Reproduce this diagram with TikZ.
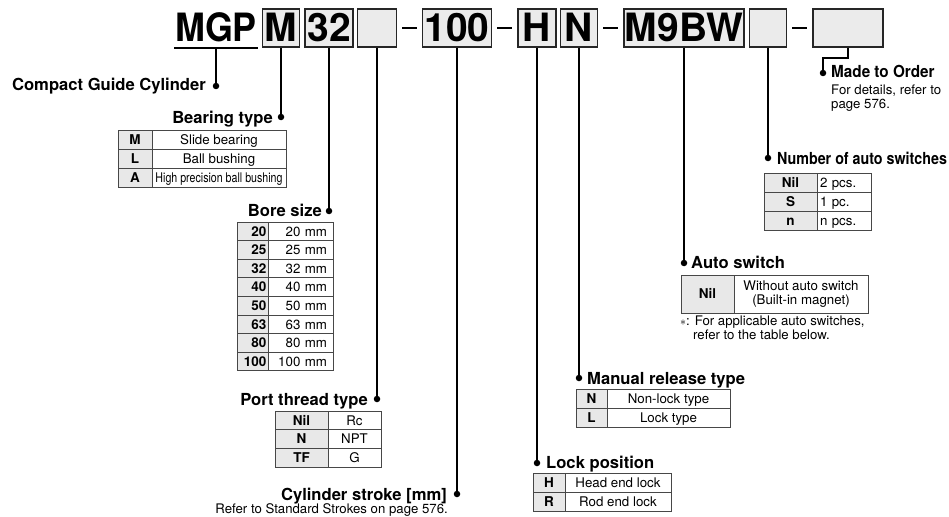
\documentclass[tikz,border=0pt]{standalone}
\usepackage{fontspec}
\setmainfont{TeX Gyre Heros}

\begin{document}
\begin{tikzpicture}[x=1pt, y=-1pt,
  code/.style={draw=black!85, line width=1.6pt, fill=black!8, inner sep=0pt, minimum height=38pt, text height=28pt, text depth=0pt, font=\fontsize{39}{39}\selectfont\bfseries},
  lead/.style={line width=1.6pt},
  hyphen/.style={line width=2.6pt, shorten <=5pt, shorten >=5pt},
  dot/.style={circle, fill, inner sep=0pt, minimum size=6.5pt},
  head/.style={font=\fontsize{16.6}{16.6}\selectfont\bfseries, inner sep=0pt},
  note/.style={font=\fontsize{13.2}{14}\selectfont, inner sep=0pt},
  cell/.style={draw=black!72, line width=0.9pt, inner sep=0pt, outer sep=0pt, text height=9.4pt, text depth=0pt, anchor=north west},
  keycell/.style={cell, fill=black!9, font=\fontsize{13.5}{14}\selectfont\bfseries},
  valcell/.style={cell, font=\fontsize{13.3}{14}\selectfont}]
\useasboundingbox (0,0) rectangle (949,516);

% model code
\node[code, minimum width=78pt, draw=none, fill=none] (mgp) at (216,28) {\scalebox{0.92}[1]{MGP}};
\draw[line width=2pt] (mgp.south west) -- (mgp.south east);
\foreach \n/\x/\w/\t in {bm/281/37pt/M, bs/329/48pt/32, bp/377/39pt/{}, bl/457/69pt/100, bh/537/38pt/H, bn/579/37pt/N, ba/684/120pt/M9BW, bc/768/37pt/{}, bo/848/70pt/{}}
  \node[code, minimum width=\w] (\n) at (\x,28) {\t};
\foreach \a/\b in {bp/bl, bl/bh, bn/ba, bc/bo}
  \draw[hyphen] (\a.east) -- (\b.west);

% leaders
\foreach \b/\x/\y/\d in {mgp/216/86/cgc, bm/281/117/bear, bs/329/211/bore, bp/377/399/port, bl/457/494/strk, bh/537/463/lock, bn/579/378/man, ba/684/263/auto, bc/768/158/num}{
  \node[dot] (d-\d) at (\x,\y) {};
  \draw[lead] (\b.south) -- (d-\d);}
\node[dot] (d-mto) at (823,73) {};
\draw[lead] (bo.south) -- ++(0,10) -| (d-mto);

% headings
\node[head, anchor=base east] (t-cgc) at (206,91) {Compact Guide Cylinder};
\node[head, anchor=base east] (t-bear) at (273,123) {Bearing type};
\node[head, anchor=base east] (t-bore) at (322,216) {Bore size};
\node[head, anchor=base east] (t-port) at (368,405) {Port thread type};
\node[head, anchor=base east] (t-strk) at (447,500) {Cylinder stroke [mm]};
\node[note, anchor=base east] (n-strk) at (448,513) {Refer to Standard Strokes on page 576.};
\node[head, anchor=base west] (t-man) at (587,384) {Manual release type};
\node[head, anchor=base west] (t-lock) at (546,468) {Lock position};
\node[head, anchor=base west] (t-auto) at (691,268) {Auto switch};
\node[note, anchor=base west] (n-auto1) at (680,325) {$\ast$: For applicable auto switches,};
\node[note, anchor=base west] (n-auto2) at (693,339) {refer to the table below.};
\node[head, anchor=base west] (t-num) at (777,164) {\scalebox{0.86}[1]{Number of auto switches}};
\node[head, anchor=base west] (t-mto) at (831,78) {\scalebox{0.92}[1]{Made to Order}};
\node[note, anchor=base west] (n-mto1) at (831,95) {For details, refer to};
\node[note, anchor=base west] (n-mto2) at (831,108) {page 576.};

% tables
\foreach \k/\v [count=\i from 0] in {M/Slide bearing, L/Ball bushing, A/\scalebox{0.8}[1]{High precision ball bushing}}{
  \node[keycell, minimum width=34pt, minimum height=19pt] (bk\i) at (118,130+19*\i) {\k};
  \node[valcell, minimum width=134pt, minimum height=19pt] (bv\i) at (bk\i.north east) {\v};}
\foreach \k [count=\i from 0] in {20,25,32,40,50,63,80,100}{
  \node[keycell, text width=28pt, inner xsep=1.5pt, align=right, minimum height=18.6pt] (ok\i) at (237,222+18.6*\i) {\k};
  \node[valcell, text width=53pt, inner xsep=6pt, align=right, minimum height=18.6pt] (ov\i) at (ok\i.north east) {\k~mm};}
\foreach \k/\v [count=\i from 0] in {Nil/Rc, N/NPT, TF/G}{
  \node[keycell, minimum width=53pt, minimum height=18.7pt] (pk\i) at (275,411+18.7*\i) {\k};
  \node[valcell, minimum width=53pt, minimum height=18.7pt] (pv\i) at (pk\i.north east) {\v};}
\foreach \k/\v [count=\i from 0] in {H/Head end lock, R/Rod end lock}{
  \node[keycell, minimum width=32pt, minimum height=19pt] (lk\i) at (533,473+19*\i) {\k};
  \node[valcell, minimum width=106pt, minimum height=19pt] (lv\i) at (lk\i.north east) {\v};}
\foreach \k/\v [count=\i from 0] in {N/Non-lock type, L/Lock type}{
  \node[keycell, minimum width=31pt, minimum height=19pt] (mk\i) at (576,389+19*\i) {\k};
  \node[valcell, minimum width=123pt, minimum height=19pt] (mv\i) at (mk\i.north east) {\v};}
\node[keycell, minimum width=53pt, minimum height=38pt] (ak) at (681,275) {Nil};
\node[valcell, minimum width=134pt, minimum height=38pt, text height={}, text depth={}, align=center] (av) at (ak.north east) {Without auto switch\\(Built-in magnet)};
\foreach \k/\v [count=\i from 0] in {Nil/2 pcs., S/1 pc., n/n pcs.}{
  \node[keycell, minimum width=53pt, minimum height=19pt] (nk\i) at (764,173+19*\i) {\k};
  \node[valcell, text width=48pt, inner xsep=3pt, align=left, minimum height=19pt] (nv\i) at (nk\i.north east) {\v};}
\end{tikzpicture}
\end{document}
